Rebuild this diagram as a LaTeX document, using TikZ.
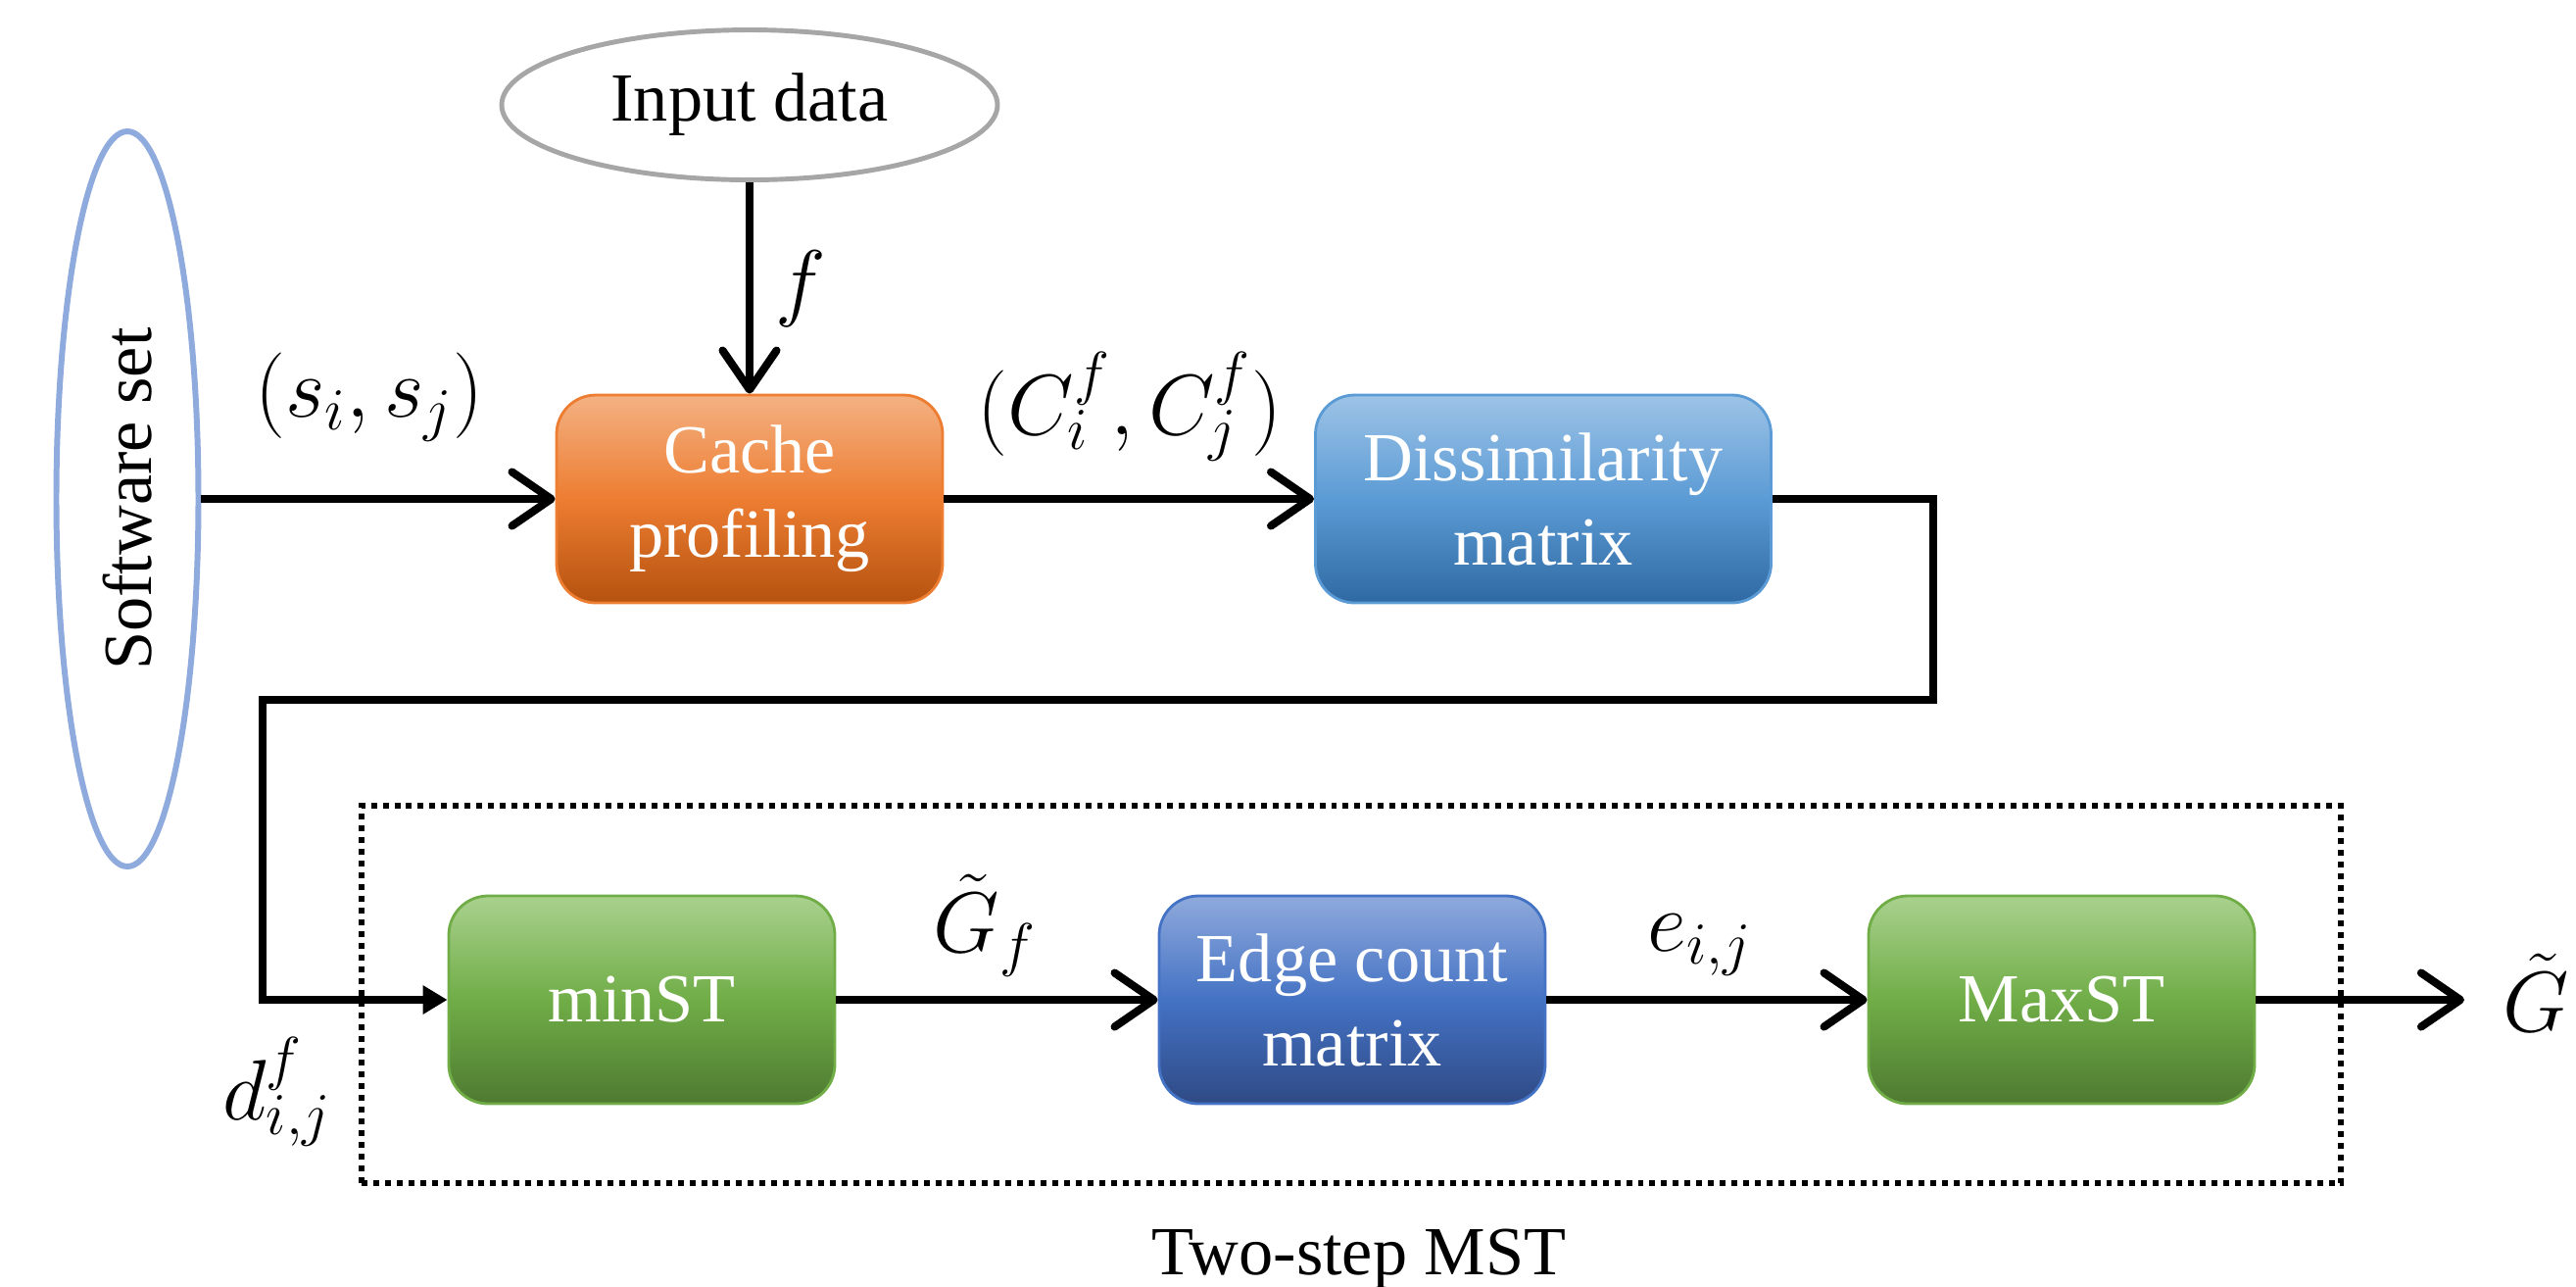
\documentclass[tikz,border=0pt]{standalone}
\usepackage{fontspec}
\setmainfont{Liberation Serif}
\usetikzlibrary{arrows.meta,shapes.geometric}

\definecolor{orgtop}{HTML}{F4B183}
\definecolor{orgmid}{HTML}{ED7D31}
\definecolor{orgbot}{HTML}{B5520F}
\definecolor{skytop}{HTML}{9DC3E6}
\definecolor{skymid}{HTML}{5B9BD5}
\definecolor{skybot}{HTML}{2F69A3}
\definecolor{navtop}{HTML}{8FAADC}
\definecolor{navmid}{HTML}{4472C4}
\definecolor{navbot}{HTML}{2F4A85}
\definecolor{grntop}{HTML}{A9D18E}
\definecolor{grnmid}{HTML}{70AD47}
\definecolor{grnbot}{HTML}{4E7A31}
\definecolor{softblue}{HTML}{8FAADC}
\definecolor{datagray}{HTML}{A6A6A6}

\begin{document}
\begin{tikzpicture}[
    box/.style={rounded corners=0.4cm, minimum width=3.94cm, minimum height=2.12cm,
        inner sep=0pt, align=center, text=white, line width=0.8pt,
        font=\fontsize{20}{24.5}\selectfont},
    orangebox/.style={box, draw=orgmid, top color=orgtop, bottom color=orgbot, middle color=orgmid},
    skybox/.style={box, draw=skymid, top color=skytop, bottom color=skybot, middle color=skymid},
    navybox/.style={box, draw=navmid, top color=navtop, bottom color=navbot, middle color=navmid},
    greenbox/.style={box, draw=grnmid, top color=grntop, bottom color=grnbot, middle color=grnmid},
    flow/.style={line width=2.3pt, -{Straight Barb[length=4mm, width=5.5mm, round]}},
    lbl/.style={font=\fontsize{24}{28}\selectfont, inner sep=0pt}]
    \useasboundingbox (0,0) rectangle (26.29,-13.12);

    % sources
    \node[ellipse, draw=softblue, line width=1.7pt, minimum width=1.45cm, minimum height=7.5cm,
        inner sep=0pt, font=\fontsize{20}{24}\selectfont] (soft) at (1.30,-5.09) {\rotatebox{90}{Software set}};
    \node[ellipse, draw=datagray, line width=1.4pt, minimum width=5.06cm, minimum height=1.53cm,
        inner sep=0pt, font=\fontsize{20}{24}\selectfont] (inp) at (7.65,-1.07) {Input data};

    % first row
    \node[orangebox] (cache) at (7.65,-5.09) {Cache\\profiling};
    \node[skybox, minimum width=4.65cm] (dis) at (15.75,-5.09) {Dissimilarity\\matrix};

    % second row
    \node[greenbox] (minst) at (6.55,-10.20) {minST};
    \node[navybox] (edge) at (13.80,-10.20) {Edge count\\matrix};
    \node[greenbox] (maxst) at (21.04,-10.20) {MaxST};

    \node[draw, line width=1.7pt, dash pattern=on 1.7pt off 1.7pt, minimum width=20.2cm,
        minimum height=3.85cm, inner sep=0pt] (mst) at (13.79,-10.145) {};
    \node[anchor=base, font=\fontsize{20}{24}\selectfont, inner sep=0pt] (mstname) at (13.87,-13.0) {Two-step MST};

    \coordinate (loopR) at (19.73,-7.14);
    \coordinate (loopL) at (2.68,-7.14);
    \coordinate (out) at (25.15,-10.20);

    \draw[flow] (soft.east) -- (cache.west);
    \draw[flow] (inp.south) -- (cache.north);
    \draw[flow] (cache.east) -- (dis.west);
    \draw[line width=2.3pt, -{Triangle[length=2.5mm, width=2.8mm]}] (dis.east) -| (loopR) -- (loopL) |- (minst.west);
    \draw[flow] (minst.east) -- (edge.west);
    \draw[flow] (edge.east) -- (maxst.west);
    \draw[flow] (maxst.east) -- (out);

    % labels
    \node[lbl] (sij) at (3.77,-4.05) {$(s_i,s_j)$};
    \node[lbl] (flab) at (8.17,-2.95) {$f$};
    \node[lbl] (cij) at (11.53,-4.15) {$(C_i^f,C_j^f)$};
    \node[lbl] (dij) at (2.83,-11.14) {$d_{i,j}^f$};
    \node[lbl] (gf) at (10.05,-9.44) {$\tilde{G}_f$};
    \node[lbl] (eij) at (17.35,-9.64) {$e_{i,j}$};
    \node[lbl] (gout) at (25.88,-10.13) {$\tilde{G}$};
\end{tikzpicture}
\end{document}
